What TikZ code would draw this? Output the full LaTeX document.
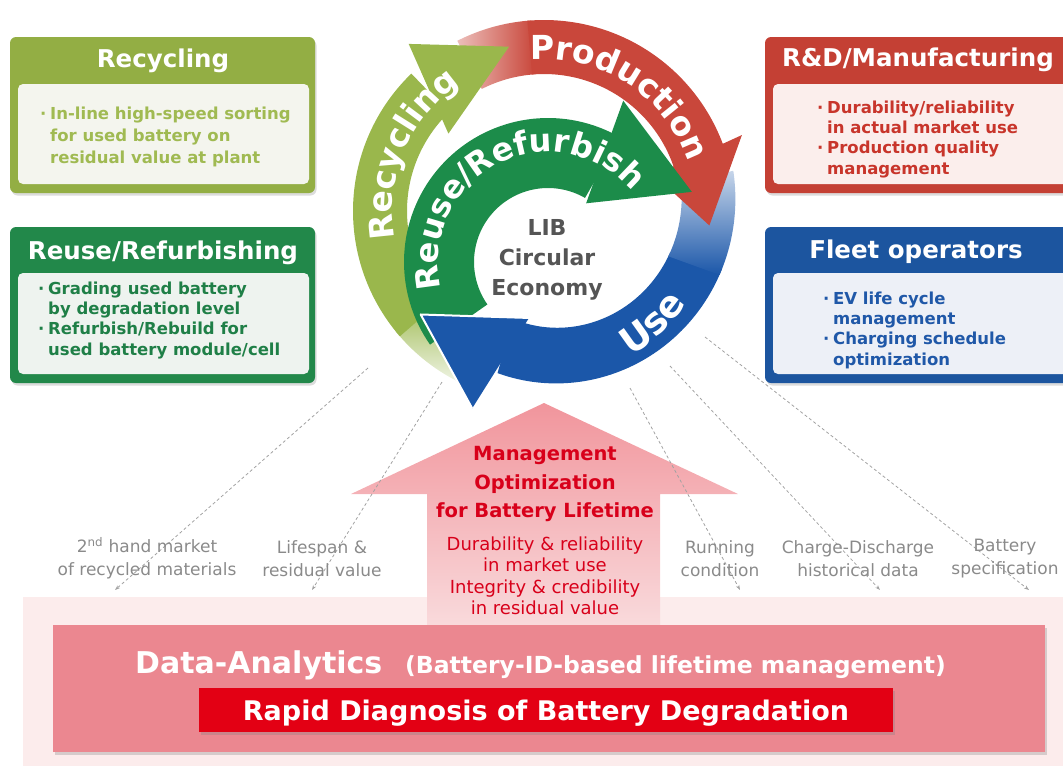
\documentclass[tikz,border=0pt]{standalone}
\usepackage{fontspec}
\setmainfont{DejaVu Sans}
\usetikzlibrary{calc,decorations.text,shadows,arrows.meta}

% side panels
\definecolor{recycBox}{HTML}{93AE44}
\definecolor{recycIn}{HTML}{F4F5EE}
\definecolor{recycTxt}{HTML}{A0BA52}
\definecolor{reuseBox}{HTML}{22884A}
\definecolor{reuseIn}{HTML}{EEF3EF}
\definecolor{reuseTxt}{HTML}{1F7F47}
\definecolor{rdBox}{HTML}{C44034}
\definecolor{rdIn}{HTML}{FBEEEC}
\definecolor{rdTxt}{HTML}{C8352B}
\definecolor{fleetBox}{HTML}{1C559F}
\definecolor{fleetIn}{HTML}{EDF0F7}
\definecolor{fleetTxt}{HTML}{2058A8}
% cycle
\definecolor{recycA}{HTML}{9AB74C}
\definecolor{prodC}{HTML}{C9473B}
\definecolor{useC}{HTML}{1B57A9}
\definecolor{reuseC}{HTML}{1C8C4A}
\definecolor{centerGray}{HTML}{555555}
% lower part
\definecolor{panelPink}{HTML}{FCECEC}
\definecolor{mgmtTop}{HTML}{F1959C}
\definecolor{mgmtBot}{HTML}{F9DADC}
\definecolor{mgmtRed}{HTML}{D8001A}
\definecolor{dataBox}{HTML}{EB8790}
\definecolor{diagRed}{HTML}{E30014}
\definecolor{labelGray}{HTML}{8A8A8A}
\definecolor{dashGray}{HTML}{A2A2A2}

\newcommand\bl{\makebox[10pt][l]{·}}
\newcommand\ind{\hspace*{10pt}}

\begin{document}
\begin{tikzpicture}[x=1pt,y=-1pt,
  sidebox/.style={rounded corners=6pt,
    drop shadow={shadow xshift=1.5pt,shadow yshift=-2.5pt,opacity=.28}},
  innerbox/.style={rounded corners=5pt},
  boxtitle/.style={font=\fontsize{24.5}{24.5}\selectfont\bfseries,text=white,inner sep=0},
  boxbody/.style={font=\fontsize{16.5}{20.3}\selectfont\bfseries,align=left,inner sep=0,anchor=north west},
  graylabel/.style={font=\fontsize{17}{23}\selectfont,text=labelGray,align=center,inner sep=0},
  feed/.style={draw=dashGray,line width=0.8pt,dash pattern=on 3pt off 2.5pt,
    -{Stealth[length=5pt,width=3.5pt]}},
  bandtext/.style={decorate,decoration={text along path,text align=center,text color=white,text={#1}}}
]
\useasboundingbox (0,0) rectangle (1063,769);
\clip (0,0) rectangle (1063,769);

% ---------- lower panel and the up arrow ----------
\fill[panelPink] (23,597) rectangle (1063,766);
\shade[top color=mgmtTop,bottom color=mgmtBot]
  (544,403) -- (738,494) -- (660,494) -- (660,626) -- (427,626) -- (427,494) -- (351,494) -- cycle;

\fill[dataBox,drop shadow={shadow xshift=2pt,shadow yshift=-3pt,opacity=.3}] (53,625) rectangle (1045,752);
\fill[diagRed,drop shadow={shadow xshift=2pt,shadow yshift=-3pt,opacity=.3}] (199,688) rectangle (893,732);
\node[anchor=base west,font=\fontsize{30}{30}\selectfont\bfseries,text=white,inner sep=0] (da) at (135,673) {Data-Analytics};
\node[anchor=base west,font=\fontsize{23.5}{24}\selectfont\bfseries,text=white,inner sep=0] (dasub) at (405,673) {(Battery-ID-based lifetime management)};
\node[anchor=base,font=\fontsize{27}{27}\selectfont\bfseries,text=white,inner sep=0] (rapid) at (546,720) {Rapid Diagnosis of Battery Degradation};

\node[font=\fontsize{19.5}{28.5}\selectfont\bfseries,text=mgmtRed,align=center,inner sep=0] (mgmt) at (545,484)
  {Management\\Optimization\\for Battery Lifetime};
\node[font=\fontsize{18}{21.5}\selectfont,text=mgmtRed,align=center,inner sep=0] (mgmtsub) at (545,576)
  {Durability \& reliability\\in market use\\Integrity \& credibility\\in residual value};

% ---------- data sources feeding the analytics ----------
\coordinate (s1) at (368,368); \coordinate (e1) at (115,590);
\coordinate (s2) at (442,382); \coordinate (e2) at (312,590);
\coordinate (s3) at (630,388); \coordinate (e3) at (740,590);
\coordinate (s4) at (670,366); \coordinate (e4) at (880,590);
\coordinate (s5) at (705,337); \coordinate (e5) at (1029,590);
\foreach \i in {1,...,5} \draw[feed] (s\i) -- (e\i);

\node[graylabel] (lab1) at (147,558.5) {2\textsuperscript{nd} hand market\\of recycled materials};
\node[graylabel] (lab2) at (322,558.5) {Lifespan \&\\residual value};
\node[graylabel] (lab3) at (720,558.5) {Running\\condition};
\node[graylabel] (lab4) at (858,558.5) {Charge-Discharge\\historical data};
\node[graylabel] (lab5) at (1005,558.5) {Battery\\specification};

% ---------- side panels ----------
\fill[recycBox,sidebox] (10,37) rectangle (315,193);
\fill[recycIn,innerbox] (18,84) rectangle (309,184);
\node[boxtitle] (rect) at (163,61) {Recycling};
\node[boxbody,text=recycTxt,font=\fontsize{16.5}{22}\selectfont\bfseries] (recb) at (40,106.5)
  {\bl In-line high-speed sorting\\\ind for used battery on\\\ind residual value at plant};

\fill[reuseBox,sidebox] (10,227) rectangle (315,383);
\fill[reuseIn,innerbox] (18,273) rectangle (309,374);
\node[boxtitle] (reut) at (163,253) {Reuse/Refurbishing};
\node[boxbody,text=reuseTxt] (reub) at (38,281.5)
  {\bl Grading used battery\\\ind by degradation level\\\bl Refurbish/Rebuild for\\\ind used battery module/cell};

\fill[rdBox,sidebox] (765,37) rectangle (1075,193);
\fill[rdIn,innerbox] (773,84) rectangle (1075,184);
\node[boxtitle] (rdt) at (918,60) {R\&D/Manufacturing};
\node[boxbody,text=rdTxt] (rdb) at (817,100.5)
  {\bl Durability/reliability\\\ind in actual market use\\\bl Production quality\\\ind management};

\fill[fleetBox,sidebox] (765,227) rectangle (1075,383);
\fill[fleetIn,innerbox] (773,273) rectangle (1075,374);
\node[boxtitle] (flt) at (916,252) {Fleet operators};
\node[boxbody,text=fleetTxt] (flb) at (823,291.5)
  {\bl EV life cycle\\\ind management\\\bl Charging schedule\\\ind optimization};

% ---------- circular economy cycle ----------
\coordinate (O) at (544,211);
\coordinate (I) at (548,262);

% recycling band (fading tail at the bottom)
\shade[top color=recycA,bottom color=recycA!12]
  plot[domain=114:141,samples=30] ({544+191*cos(\x)},{211+191*sin(\x)})
  -- plot[domain=141:114,samples=30] ({544+137*cos(\x)},{211+137*sin(\x)}) -- cycle;
\fill[recycA]
  plot[domain=139:226,samples=60] ({544+191*cos(\x)},{211+191*sin(\x)})
  -- plot[domain=226:139,samples=60] ({544+137*cos(\x)},{211+137*sin(\x)}) -- cycle;

% production band
\shade[left color=prodC!35,right color=prodC]
  plot[domain=243:266,samples=20] ({544+191*cos(\x)},{211+191*sin(\x)})
  -- plot[domain=266:243,samples=20] ({544+137*cos(\x)},{211+137*sin(\x)}) -- cycle;
\fill[prodC]
  plot[domain=265:342,samples=60] ({544+191*cos(\x)},{211+191*sin(\x)})
  -- plot[domain=342:265,samples=60] ({544+137*cos(\x)},{211+137*sin(\x)}) -- cycle;

% recycling arrow head
\fill[recycA] ($(O)+(219:123)$) -- ($(O)+(231:215)$) -- ($(O)+(258:168)$) -- cycle;

% use band, spiralling inwards
\fill[useC]
  plot[domain=18:106,samples=70] ({544+(191-0.2111*\x)*cos(\x)},{211+(191-0.2111*\x)*sin(\x)})
  -- plot[domain=106:18,samples=70] ({544+(137-0.2333*\x)*cos(\x)},{211+(137-0.2333*\x)*sin(\x)}) -- cycle;
\shade[top color=useC!25,bottom color=useC]
  plot[domain=-12:20,samples=30] ({544+(191-0.2111*\x)*cos(\x)},{211+(191-0.2111*\x)*sin(\x)})
  -- plot[domain=20:-12,samples=30] ({544+(137-0.2333*\x)*cos(\x)},{211+(137-0.2333*\x)*sin(\x)}) -- cycle;

% production arrow head
\fill[prodC] ($(O)+(342:116)$) -- ($(O)+(339:212)$) -- ($(O)+(5:166)$) -- cycle;

% reuse / refurbish inner band and head
\fill[reuseC]
  plot[domain=145:300,samples=70] ({548+144*cos(\x)},{262+144*sin(\x)})
  -- plot[domain=300:145,samples=70] ({548+74*cos(\x)},{262+74*sin(\x)}) -- cycle;
\fill[reuseC] ($(I)+(303:70)$) -- ($(I)+(295:178)$) -- ($(I)+(334:160)$) -- cycle;

% use arrow head
\coordinate (bh1) at ($(O)+(98:108)$);
\coordinate (bh2) at ($(O)+(110:210)$);
\coordinate (bh3) at ($(O)+(140:161)$);
\fill[useC] (bh1) -- (bh2) -- (bh3) -- cycle;
\draw[white,line width=2pt,line join=round] (bh1) -- (bh3) -- (bh2);

% band labels
\path[bandtext={|\fontsize{33}{33}\selectfont\bfseries|Recycling}]
  plot[domain=143:263,samples=80] ({544+152*cos(\x)},{211+152*sin(\x)});
\path[bandtext={|\fontsize{33}{33}\selectfont\bfseries|Production}]
  plot[domain=243:363,samples=80] ({544+152*cos(\x)},{211+152*sin(\x)});
\path[bandtext={|\fontsize{32}{32}\selectfont\bfseries|Reuse/Refurbish}]
  plot[domain=143:343,samples=100] ({548+110*cos(\x)},{262+110*sin(\x)});
\path[bandtext={|\fontsize{37}{37}\selectfont\bfseries|Use}]
  plot[domain=96:-4,samples=60] ({544+169*cos(\x)},{211+169*sin(\x)});

\node[font=\fontsize{22}{30}\selectfont\bfseries,text=centerGray,align=center,inner sep=0] (lib) at (547,260)
  {LIB\\Circular\\Economy};
\end{tikzpicture}
\end{document}
